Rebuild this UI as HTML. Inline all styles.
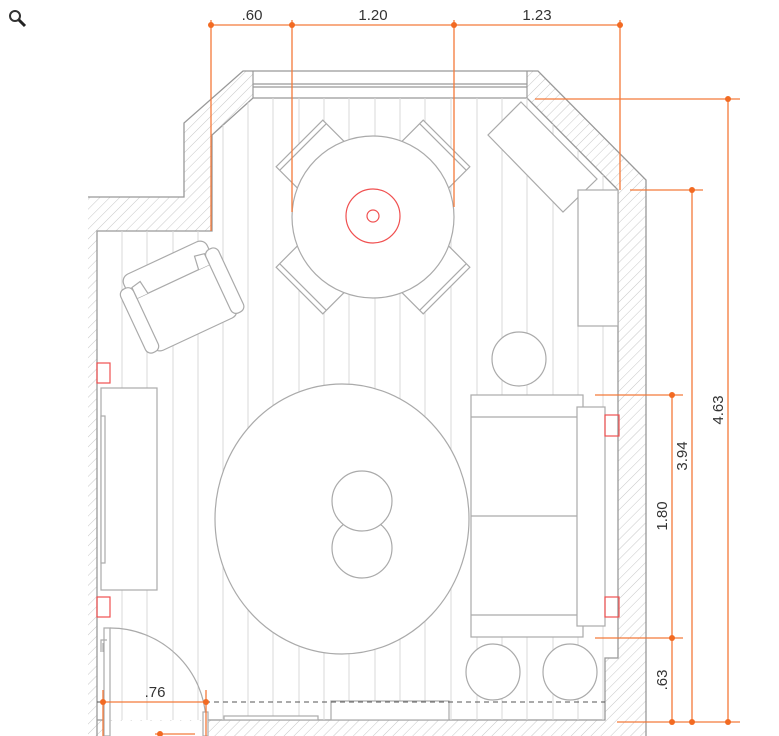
<!DOCTYPE html>
<html><head><style>
html,body{margin:0;padding:0;background:#fff;}
svg{display:block;}
text{font-family:"Liberation Sans",sans-serif;font-size:15px;fill:#333;}
</style></head><body>
<svg width="779" height="736" viewBox="0 0 779 736" xmlns="http://www.w3.org/2000/svg">
<defs>
<pattern id="h" width="7" height="7" patternUnits="userSpaceOnUse" patternTransform="rotate(45)">
<line x1="0" y1="0" x2="0" y2="7" stroke="#c8c8c8" stroke-width="1"/>
</pattern>
<clipPath id="floor"><polygon points="97,231 212,231 212,135 253,98 527,98 618,190 618,658 605,658 605,720 97,720"/></clipPath>
</defs>
<!-- magnifier -->
<circle cx="15" cy="16" r="5" fill="none" stroke="#333" stroke-width="2"/>
<line x1="19" y1="20" x2="25" y2="26" stroke="#222" stroke-width="3"/>

<!-- walls hatch -->
<path d="M88,197 L184,197 L184,123 L243,71 L538,71 L646,180 L646,736 L88,736 Z M97,231 L97,720 L605,720 L605,658 L618,658 L618,190 L527,98 L253,98 L212,135 L212,231 Z" fill="url(#h)" fill-rule="evenodd"/>
<rect x="253" y="71" width="274" height="27" fill="#fff"/>
<rect x="104" y="721" width="102" height="15" fill="#fff"/>
<path d="M88,197 L184,197 L184,123 L243,71 L538,71 L646,180 L646,736" fill="none" stroke="#999" stroke-width="1.3"/>
<path d="M97,736 L97,231 L212,231 L212,135 L253,98 L527,98 L618,190 L618,658 L605,658 L605,720 L206,720 M103,720 L97,720" fill="none" stroke="#999" stroke-width="1.3"/>
<!-- window -->
<path d="M253,71 L253,98 M253,84 L527,84 M253,87 L527,87 M527,71 L527,98" stroke="#999" stroke-width="1.2" fill="none"/>

<!-- floor lines -->
<g clip-path="url(#floor)" stroke="#d8d8d8" stroke-width="1">
<line x1="122" y1="90" x2="122" y2="720"/><line x1="147" y1="90" x2="147" y2="720"/><line x1="173" y1="90" x2="173" y2="720"/><line x1="198" y1="90" x2="198" y2="720"/><line x1="223" y1="90" x2="223" y2="720"/><line x1="248" y1="90" x2="248" y2="720"/><line x1="273" y1="90" x2="273" y2="720"/><line x1="299" y1="90" x2="299" y2="720"/><line x1="324" y1="90" x2="324" y2="720"/><line x1="349" y1="90" x2="349" y2="720"/><line x1="375" y1="90" x2="375" y2="720"/><line x1="400" y1="90" x2="400" y2="720"/><line x1="425" y1="90" x2="425" y2="720"/><line x1="451" y1="90" x2="451" y2="720"/><line x1="477" y1="90" x2="477" y2="720"/><line x1="502" y1="90" x2="502" y2="720"/><line x1="527" y1="90" x2="527" y2="720"/><line x1="553" y1="90" x2="553" y2="720"/><line x1="578" y1="90" x2="578" y2="720"/><line x1="603" y1="90" x2="603" y2="720"/>
</g>

<g fill="#fff" stroke="#aaa" stroke-width="1.2">
<!-- chairs -->
<g transform="translate(373,217)">
<g transform="rotate(-45)"><rect x="-33" y="-104" width="66" height="50"/><line x1="-33" y1="-99" x2="33" y2="-99"/></g>
<g transform="rotate(45)"><rect x="-33" y="-104" width="66" height="50"/><line x1="-33" y1="-99" x2="33" y2="-99"/></g>
<g transform="rotate(135)"><rect x="-33" y="-104" width="66" height="50"/><line x1="-33" y1="-99" x2="33" y2="-99"/></g>
<g transform="rotate(-135)"><rect x="-33" y="-104" width="66" height="50"/><line x1="-33" y1="-99" x2="33" y2="-99"/></g>
<circle r="81"/>
</g>
<!-- armchair -->
<g transform="translate(180,296) rotate(-25)">
<rect x="-46" y="-42" width="92" height="84" rx="8"/>
<rect x="-54" y="-30" width="14" height="70" rx="6"/>
<rect x="40" y="-30" width="14" height="70" rx="6"/>
<line x1="-40" y1="-16" x2="40" y2="-16"/>
<path d="M-40,-16 L-40,-28 L-30,-30 L-28,-16 M40,-16 L40,-28 L30,-30 L28,-16"/>
</g>
<!-- right furniture -->
<polygon points="521,102 597,179 563,212 488,135"/>
<rect x="578" y="190" width="40" height="136"/>
<circle cx="519" cy="359" r="27"/>
<!-- rug -->
<ellipse cx="342" cy="519" rx="127" ry="135"/>
<circle cx="362" cy="548" r="30"/>
<circle cx="362" cy="501" r="30"/>
<!-- sofa -->
<rect x="471" y="395" width="112" height="242"/>
<line x1="471" y1="417" x2="577" y2="417"/><line x1="471" y1="516" x2="577" y2="516"/><line x1="471" y1="615" x2="577" y2="615"/>
<rect x="577" y="407" width="28" height="219"/>
<!-- tv -->
<rect x="101" y="388" width="56" height="202"/>
<rect x="101" y="416" width="4" height="147"/>
<!-- poufs -->
<ellipse cx="493" cy="672" rx="27" ry="28"/>
<ellipse cx="570" cy="672" rx="27" ry="28"/>
<rect x="331" y="701" width="118" height="19"/>
<rect x="224" y="716" width="94" height="4"/>
<!-- door -->
<path d="M110,628 A96,96 0 0 1 206,720" fill="none"/>
<rect x="104" y="628" width="6" height="108"/>
<rect x="203" y="712" width="5" height="24"/>
<path d="M101,652 L101,640 L107,640 M103,652 L103,643" fill="none"/>
</g>
<line x1="97" y1="702" x2="605" y2="702" stroke="#555" stroke-width="1" stroke-dasharray="5,4"/>

<!-- red -->
<g fill="none" stroke="#f05050" stroke-width="1.2">
<circle cx="373" cy="216" r="27"/><circle cx="373" cy="216" r="6"/>
<rect x="97" y="363" width="13" height="20"/><rect x="97" y="597" width="13" height="20"/>
<rect x="605" y="415" width="14" height="21"/><rect x="605" y="597" width="14" height="20"/>
</g>

<!-- dims -->
<g stroke="#f47a3a" stroke-width="1.3" fill="none">
<line x1="211" y1="25" x2="620" y2="25"/>
<line x1="211" y1="20" x2="211" y2="231"/>
<line x1="292" y1="20" x2="292" y2="212"/>
<line x1="454" y1="20" x2="454" y2="207"/>
<line x1="620" y1="20" x2="620" y2="190"/>
<line x1="535" y1="99" x2="740" y2="99"/>
<line x1="728" y1="99" x2="728" y2="722"/>
<line x1="630" y1="190" x2="703" y2="190"/>
<line x1="692" y1="190" x2="692" y2="722"/>
<line x1="595" y1="395" x2="683" y2="395"/>
<line x1="595" y1="638" x2="683" y2="638"/>
<line x1="672" y1="395" x2="672" y2="722"/>
<line x1="617" y1="722" x2="740" y2="722"/>
<line x1="103" y1="702" x2="206" y2="702"/>
<line x1="103" y1="690" x2="103" y2="736"/>
<line x1="206" y1="690" x2="206" y2="736"/>
<line x1="155" y1="734" x2="195" y2="734"/>
</g>
<g fill="#f26a22">
<circle cx="211" cy="25" r="3"/><circle cx="292" cy="25" r="3"/><circle cx="454" cy="25" r="3"/><circle cx="620" cy="25" r="3"/>
<circle cx="728" cy="99" r="3"/><circle cx="692" cy="190" r="3"/><circle cx="672" cy="395" r="3"/><circle cx="672" cy="638" r="3"/>
<circle cx="672" cy="722" r="3"/><circle cx="692" cy="722" r="3"/><circle cx="728" cy="722" r="3"/>
<circle cx="103" cy="702" r="3"/><circle cx="206" cy="702" r="3"/><circle cx="160" cy="734" r="3"/>
</g>
<text x="252" y="20" text-anchor="middle">.60</text>
<text x="373" y="20" text-anchor="middle">1.20</text>
<text x="537" y="20" text-anchor="middle">1.23</text>
<text x="155" y="697" text-anchor="middle">.76</text>
<text transform="translate(723,410) rotate(-90)" text-anchor="middle">4.63</text>
<text transform="translate(687,456) rotate(-90)" text-anchor="middle">3.94</text>
<text transform="translate(667,516) rotate(-90)" text-anchor="middle">1.80</text>
<text transform="translate(667,680) rotate(-90)" text-anchor="middle">.63</text>
</svg>
</body></html>
